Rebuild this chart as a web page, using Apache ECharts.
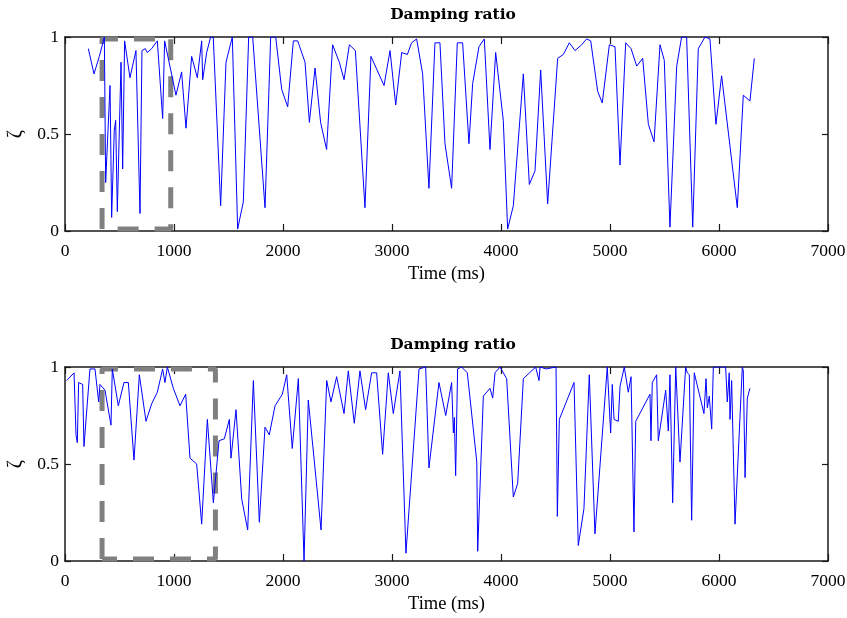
<!DOCTYPE html>
<html>
<head>
<meta charset="utf-8">
<script src="https://cdn.jsdelivr.net/npm/echarts@6/dist/echarts.min.js"></script>
<style>
  html, body { margin: 0; padding: 0; background: #fff; }
  #chart { width: 847px; height: 618px; }
</style>
</head>
<body>
<div id="chart"></div>
<script>
// Damping ratio estimates over time, two recordings
const time1 = [214,266,315,361,373,413,428,452,465,480,514,529,547,596,651,688,706,737,755,795,847,865,896,914,1018,1070,1110,1162,1214,1254,1263,1300,1336,1360,1428,1477,1535,1584,1636,1685,1722,1835,1887,1933,1988,2043,2095,2135,2202,2242,2294,2345,2400,2455,2517,2560,2609,2664,2752,2807,2927,2982,3034,3089,3141,3180,3226,3281,3339,3394,3440,3486,3547,3599,3648,3706,3740,3798,3847,3899,3951,4021,4061,4113,4205,4260,4312,4364,4428,4520,4572,4627,4679,4740,4786,4823,4887,4929,4994,5046,5092,5144,5193,5245,5300,5352,5404,5459,5498,5550,5612,5657,5703,5759,5810,5872,5917,5972,6024,6168,6223,6284,6324];
const ratio1 = [0.94,0.81,0.90,1.0,0.25,0.75,0.07,0.52,0.57,0.10,0.87,0.32,0.98,0.79,0.93,0.09,0.93,0.94,0.92,0.94,0.98,0.97,0.58,0.98,0.70,0.82,0.53,0.90,0.79,0.98,0.78,0.92,1.0,1.0,0.13,0.87,1.0,0.01,0.15,1.0,1.0,0.12,1.0,1.0,0.73,0.64,0.98,0.98,0.87,0.56,0.84,0.56,0.42,0.96,0.87,0.78,0.96,0.93,0.12,0.90,0.75,0.93,0.65,0.92,0.91,0.97,0.99,0.81,0.22,0.97,0.97,0.45,0.22,0.97,0.97,0.45,0.76,0.95,0.99,0.42,0.92,0.57,0.01,0.13,0.81,0.24,0.31,0.83,0.14,0.89,0.91,0.97,0.93,0.96,0.99,0.98,0.72,0.66,0.96,0.95,0.34,0.97,0.94,0.85,0.89,0.55,0.46,0.96,0.88,0.02,0.85,1.0,1.0,0.02,0.94,1.0,0.99,0.55,0.80,0.12,0.70,0.67,0.89];

const time2 = [15,83,101,113,125,162,174,229,275,291,309,321,367,422,434,489,541,581,633,682,743,795,847,896,917,939,994,1055,1107,1147,1208,1254,1306,1361,1413,1462,1508,1523,1569,1621,1676,1728,1783,1835,1874,1927,1994,2034,2085,2141,2193,2232,2349,2401,2440,2492,2560,2599,2654,2706,2758,2813,2859,2914,2966,3012,3073,3128,3248,3309,3339,3431,3493,3547,3563,3572,3584,3602,3639,3691,3778,3786,3838,3899,3924,3945,3960,3991,4052,4113,4153,4205,4318,4349,4358,4413,4505,4517,4535,4670,4688,4709,4761,4810,4862,4975,5006,5021,5037,5076,5092,5131,5168,5193,5220,5236,5367,5376,5388,5428,5443,5511,5535,5550,5575,5603,5642,5694,5709,5728,5749,5773,5862,5881,5893,5911,5933,5948,6061,6076,6094,6101,6116,6147,6214,6223,6239,6260,6284];
const ratio2 = [0.93,0.97,0.65,0.61,0.92,0.91,0.59,0.99,0.99,0.98,0.82,0.91,0.88,0.70,0.99,0.80,0.92,0.92,0.52,0.96,0.72,0.81,0.87,0.99,0.92,1.0,0.89,0.80,0.86,0.53,0.50,0.19,0.73,0.30,0.62,0.63,0.73,0.53,0.78,0.32,0.16,0.93,0.20,0.69,0.65,0.80,0.86,0.96,0.58,0.94,0.0,0.83,0.16,0.93,0.82,0.95,0.76,0.98,0.71,0.98,0.78,0.97,0.97,0.55,0.97,0.76,0.98,0.04,0.99,1.0,0.48,0.92,0.75,0.92,0.66,0.74,0.44,0.99,1.0,0.97,0.51,0.05,0.85,0.89,0.84,0.97,0.97,1.0,0.94,0.33,0.40,0.94,1.0,0.93,1.0,0.99,1.0,0.23,0.73,0.92,0.91,0.08,0.27,0.96,0.14,1.0,0.66,0.91,0.73,0.72,0.90,1.0,0.87,0.95,0.15,0.72,0.86,0.62,0.92,0.96,0.62,0.88,0.67,0.96,0.30,1.0,0.51,1.0,0.97,0.96,0.21,0.97,0.76,0.94,0.79,0.85,0.68,1.0,1.0,0.82,0.97,0.73,0.93,0.19,1.0,0.98,0.43,0.84,0.89];

// Highlighted windows (ms, ratio bounds)
const window1 = { t0: 340, t1: 970, lo: 0.01, hi: 0.99 };
const window2 = { t0: 340, t1: 1380, lo: 0.01, hi: 0.99 };

const xTicks = { min: 0, max: 7000, interval: 1000 };
const yTicks = { min: 0, max: 1, interval: 0.5 };

const FONT = 'Liberation Serif';
const TITLE_FONT = 'DejaVu Serif';
const AXIS_COLOR = '#1a1a1a';

function pairs(xs, ys) { return xs.map((x, i) => [x, ys[i]]); }
function rectPath(w) {
  return [[w.t0, w.lo], [w.t0, w.hi], [w.t1, w.hi], [w.t1, w.lo], [w.t0, w.lo]];
}
const plain = v => String(v);

const grids = [
  { left: 65, top: 37, width: 763, height: 194, containLabel: false, outerBoundsMode: 'none' },
  { left: 65, top: 367, width: 763, height: 194, containLabel: false, outerBoundsMode: 'none' }
];

const xAxes = [], yAxes = [];
grids.forEach((g, gi) => {
  xAxes.push({
    gridIndex: gi, type: 'value', position: 'bottom',
    min: xTicks.min, max: xTicks.max, interval: xTicks.interval,
    name: 'Time (ms)', nameLocation: 'middle', nameGap: 34,
    nameTextStyle: { fontFamily: FONT, fontSize: 18.5, color: '#000' },
    axisLine: { show: true, onZero: false, lineStyle: { color: AXIS_COLOR, width: 1.5 } },
    axisTick: { show: true, inside: true, length: 7, lineStyle: { color: AXIS_COLOR, width: 1.2 } },
    axisLabel: { fontFamily: FONT, fontSize: 17.5, color: '#000', margin: 11, formatter: plain },
    splitLine: { show: false }
  });
  xAxes.push({
    gridIndex: gi, type: 'value', position: 'top',
    min: xTicks.min, max: xTicks.max, interval: xTicks.interval,
    axisLine: { show: true, onZero: false, lineStyle: { color: AXIS_COLOR, width: 1.5 } },
    axisTick: { show: true, inside: true, length: 7, lineStyle: { color: AXIS_COLOR, width: 1.2 } },
    axisLabel: { show: false },
    splitLine: { show: false }
  });
  yAxes.push({
    gridIndex: gi, type: 'value', position: 'left',
    min: yTicks.min, max: yTicks.max, interval: yTicks.interval,
    name: 'ζ', nameLocation: 'middle', nameGap: 37, nameRotate: 90,
    nameTextStyle: { fontFamily: FONT, fontSize: 20, color: '#000' },
    axisLine: { show: true, onZero: false, lineStyle: { color: AXIS_COLOR, width: 1.5 } },
    axisTick: { show: true, inside: true, length: 6, lineStyle: { color: AXIS_COLOR, width: 1.2 } },
    axisLabel: { fontFamily: FONT, fontSize: 17.5, color: '#000', margin: 6, formatter: plain },
    splitLine: { show: false }
  });
  yAxes.push({
    gridIndex: gi, type: 'value', position: 'right',
    min: yTicks.min, max: yTicks.max, interval: yTicks.interval,
    axisLine: { show: true, onZero: false, lineStyle: { color: AXIS_COLOR, width: 1.5 } },
    axisTick: { show: true, inside: true, length: 6, lineStyle: { color: AXIS_COLOR, width: 1.2 } },
    axisLabel: { show: false },
    splitLine: { show: false }
  });
});

function windowSeries(w, gi) {
  return {
    type: 'line', xAxisIndex: gi * 2, yAxisIndex: gi * 2,
    data: rectPath(w), showSymbol: false, silent: true, z: 1,
    lineStyle: { color: '#808080', width: 5, type: [21, 16] }
  };
}
function dataSeries(xs, ys, gi) {
  return {
    type: 'line', xAxisIndex: gi * 2, yAxisIndex: gi * 2,
    data: pairs(xs, ys), showSymbol: false, silent: true, z: 3,
    lineStyle: { color: '#0000ff', width: 1 }
  };
}

const chart = echarts.init(document.getElementById('chart'), null, { renderer: 'canvas' });
chart.setOption({
  animation: false,
  backgroundColor: '#fff',
  title: [
    { text: 'Damping ratio', left: 448, top: 2, textAlign: 'center',
      textStyle: { fontFamily: TITLE_FONT, fontSize: 15.5, fontWeight: 'bold', color: '#000' } },
    { text: 'Damping ratio', left: 448, top: 332, textAlign: 'center',
      textStyle: { fontFamily: TITLE_FONT, fontSize: 15.5, fontWeight: 'bold', color: '#000' } }
  ],
  grid: grids,
  xAxis: xAxes,
  yAxis: yAxes,
  series: [
    windowSeries(window1, 0),
    dataSeries(time1, ratio1, 0),
    windowSeries(window2, 1),
    dataSeries(time2, ratio2, 1)
  ]
});
</script>
</body>
</html>
